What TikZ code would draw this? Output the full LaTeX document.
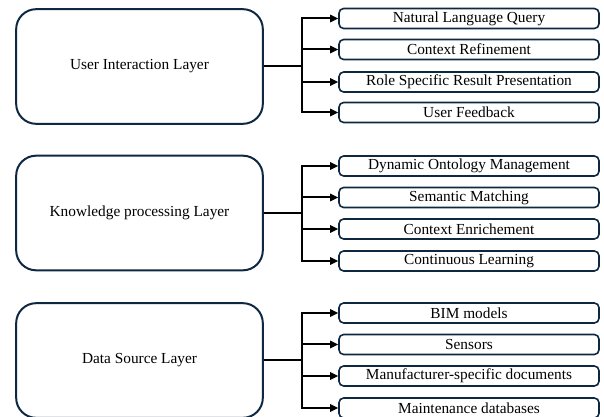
\documentclass[tikz,border=0pt]{standalone}
\usepackage{fontspec}
\setmainfont{Liberation Serif}
\usetikzlibrary{arrows.meta}
\definecolor{navy}{HTML}{0E2841}
\begin{document}
\begin{tikzpicture}[x=0.75pt,y=-0.75pt,
  layerbox/.style={draw=navy,line width=1.5pt,rounded corners=15pt,minimum width=185pt,minimum height=86pt,inner sep=0pt,font=\fontsize{11.5}{13}\selectfont,anchor=center},
  itembox/.style={draw=navy,line width=1.2pt,rounded corners=3.5pt,minimum width=195pt,minimum height=15pt,inner sep=0pt,font=\fontsize{11.5}{13}\selectfont,anchor=center},
  link/.style={draw=black,line width=1.5pt},
  arr/.style={link,-{Triangle[length=6pt,width=5.5pt]}}]
\useasboundingbox (0,0) rectangle (604,417);

% Group 1
\node[layerbox] (L1) at (139.5,66.5) {User Interaction Layer};
\node[itembox] (a1) at (469,18.5) {Natural Language Query};
\node[itembox] (a2) at (469,49.5) {Context Refinement};
\node[itembox] (a3) at (469,82) {Role Specific Result Presentation};
\node[itembox] (a4) at (469,112.5) {User Feedback};
\coordinate (j1) at (302,66);

% Group 2
\node[layerbox] (L2) at (139.5,213) {Knowledge processing Layer};
\node[itembox] (b1) at (469,166) {Dynamic Ontology Management};
\node[itembox] (b2) at (469,197.5) {Semantic Matching};
\node[itembox] (b3) at (469,229) {Context Enrichement};
\node[itembox] (b4) at (469,261) {Continuous Learning};
\coordinate (j2) at (302,213);

% Group 3
\node[layerbox] (L3) at (139.5,360.5) {Data Source Layer};
\node[itembox] (c1) at (469,313) {BIM models};
\node[itembox] (c2) at (469,344.5) {Sensors};
\node[itembox] (c3) at (469,376) {Manufacturer-specific documents};
\node[itembox] (c4) at (469,408) {Maintenance databases};
\coordinate (j3) at (302,360);

\foreach \L/\j/\s in {L1/j1/a, L2/j2/b, L3/j3/c}{
  \draw[link] (\L.east |- \j) -- (\j);
  \foreach \k in {1,2,3,4}{
    \draw[arr] (\j) |- (\s\k.west);
  }
}
\end{tikzpicture}
\end{document}
